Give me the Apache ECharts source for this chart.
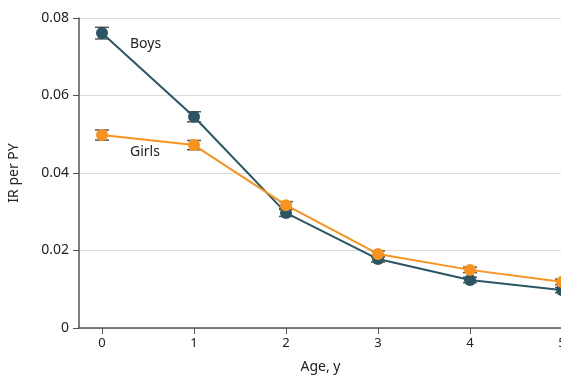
<!DOCTYPE html>
<html>
<head>
<meta charset="utf-8">
<script src="https://cdn.jsdelivr.net/npm/echarts@6/dist/echarts.min.js"></script>
<style>html,body{margin:0;padding:0;background:#fff}#c{width:561px;height:378px}</style>
</head>
<body>
<div id="c"></div>
<script>
var ages = [0, 1, 2, 3, 4, 5];
var boys = [0.0761, 0.0545, 0.0297, 0.0178, 0.0124, 0.0098];
var boysErr = [0.0015, 0.0013, 0.0009, 0.0008, 0.0007, 0.0007];
var girls = [0.0498, 0.0472, 0.0317, 0.0191, 0.0150, 0.0119];
var girlsErr = [0.0013, 0.0012, 0.0009, 0.0008, 0.0007, 0.0007];
var yTicks = [0, 0.02, 0.04, 0.06, 0.08];

var FONT = '"Noto Sans", sans-serif';
var BOY = '#2a5663';
var GIRL = '#f7931e';

function errData(vals, errs) {
  return ages.map(function (a, i) { return [a, vals[i] - errs[i], vals[i] + errs[i]]; });
}
function renderErr(params, api) {
  var x = api.value(0);
  var lo = api.coord([x, api.value(1)]);
  var hi = api.coord([x, api.value(2)]);
  var w = 7;
  var st = { stroke: '#555', lineWidth: 1.5 };
  return {
    type: 'group',
    children: [
      { type: 'line', shape: { x1: lo[0], y1: lo[1], x2: hi[0], y2: hi[1] }, style: st },
      { type: 'line', shape: { x1: lo[0] - w, y1: lo[1], x2: lo[0] + w, y2: lo[1] }, style: st },
      { type: 'line', shape: { x1: hi[0] - w, y1: hi[1], x2: hi[0] + w, y2: hi[1] }, style: st }
    ]
  };
}

var chart = echarts.init(document.getElementById('c'), null, { renderer: 'canvas' });
chart.setOption({
  animation: false,
  grid: { left: 79, right: -1, top: 18, bottom: 50, containLabel: false, outerBoundsMode: 'none' },
  xAxis: {
    type: 'value', min: -0.25, max: 5,
    name: 'Age, y', nameLocation: 'middle', nameGap: 32,
    nameTextStyle: { fontFamily: FONT, fontSize: 14, color: '#222' },
    axisLine: { show: true, onZero: false, lineStyle: { color: '#555', width: 1.5 } },
    axisTick: { show: true, length: 6, customValues: ages, lineStyle: { color: '#555' } },
    axisLabel: { customValues: ages, fontFamily: FONT, fontSize: 13, color: '#222', margin: 9, hideOverlap: false },
    splitLine: { show: false }
  },
  yAxis: {
    type: 'value', min: 0, max: 0.08, interval: 0.02,
    name: 'IR per PY', nameLocation: 'middle', nameGap: 58,
    nameTextStyle: { fontFamily: FONT, fontSize: 14, color: '#222' },
    axisLine: { show: true, onZero: false, lineStyle: { color: '#555', width: 1.5 } },
    axisTick: { show: true, length: 6, lineStyle: { color: '#555' } },
    axisLabel: {
      fontFamily: FONT, fontSize: 14, color: '#222', margin: 10,
      formatter: function (v) { return v === 0 ? '0' : v.toFixed(2); }
    },
    splitLine: { show: true, lineStyle: { color: '#dcdcdc', width: 1 } }
  },
  graphic: [
    { type: 'text', left: 130, top: 37, style: { text: 'Boys', font: '14px ' + FONT, fill: '#222' } },
    { type: 'text', left: 130, top: 145, style: { text: 'Girls', font: '14px ' + FONT, fill: '#222' } }
  ],
  series: [
    { type: 'custom', renderItem: renderErr, data: errData(boys, boysErr), z: 1, silent: true, clip: false },
    { type: 'custom', renderItem: renderErr, data: errData(girls, girlsErr), z: 1, silent: true, clip: false },
    {
      type: 'line', name: 'Boys', data: ages.map(function (a, i) { return [a, boys[i]]; }),
      symbol: 'circle', symbolSize: 12, showAllSymbol: true, z: 3,
      lineStyle: { color: BOY, width: 2 }, itemStyle: { color: BOY }
    },
    {
      type: 'line', name: 'Girls', data: ages.map(function (a, i) { return [a, girls[i]]; }),
      symbol: 'circle', symbolSize: 12, showAllSymbol: true, z: 4,
      lineStyle: { color: GIRL, width: 2 }, itemStyle: { color: GIRL }
    }
  ]
});
</script>
</body>
</html>
